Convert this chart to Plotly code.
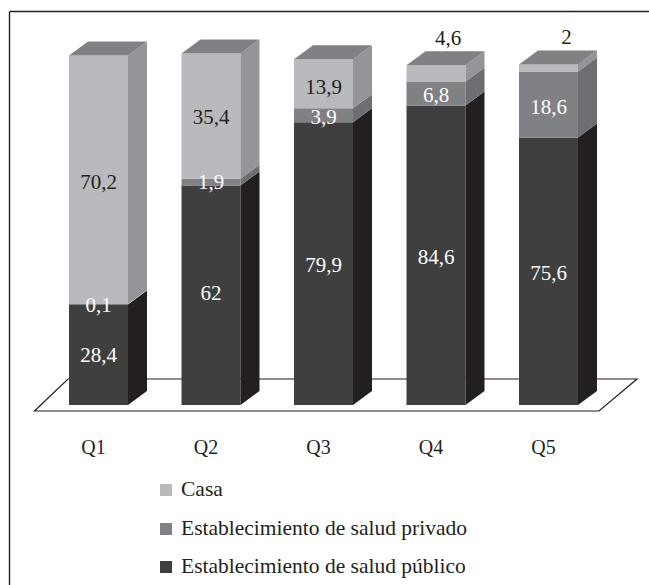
import plotly.graph_objects as go

categories = ["Q1", "Q2", "Q3", "Q4", "Q5"]
publico = [28.4, 62, 79.9, 84.6, 75.6]
privado = [0.1, 1.9, 3.9, 6.8, 18.6]
casa = [70.2, 35.4, 13.9, 4.6, 2]
label_publico = ["28,4", "62", "79,9", "84,6", "75,6"]
label_privado = ["0,1", "1,9", "3,9", "6,8", "18,6"]
label_casa = ["70,2", "35,4", "13,9", "4,6", "2"]
series_names = ["Casa", "Establecimiento de salud privado", "Establecimiento de salud público"]

W, H = 649, 585
X0_PX, X_STEP = 98.5, 112.5      # pixel of first bar centre, pixels per category
Y0_PX, Y_UNIT = 405.0, 3.54      # pixel of value 0, pixels per value unit
BAR_W = 59 / X_STEP
DX, DY = 19 / X_STEP, 14 / Y_UNIT
FONT = "Liberation Serif"

def dx(px):
    return (px - X0_PX) / X_STEP

def dy(py):
    return (Y0_PX - py) / Y_UNIT

xs = list(range(len(categories)))
front = {"casa": "#b9babd", "privado": "#808184", "publico": "#3f3f40"}
side = {"casa": "#939598", "privado": "#6d6e71", "publico": "#231f20"}
top_col = "#808184"

fig = go.Figure()

for key, name, vals, base in [
    ("publico", series_names[2], publico, [0] * 5),
    ("privado", series_names[1], privado, publico),
    ("casa", series_names[0], casa, [a + b for a, b in zip(publico, privado)]),
]:
    fig.add_trace(go.Bar(x=xs, y=vals, base=base, width=BAR_W, name=name,
                         marker=dict(color=front[key], line=dict(width=0)),
                         showlegend=False, hoverinfo="skip"))

def poly(px, py, color):
    fig.add_trace(go.Scatter(x=px + [px[0]], y=py + [py[0]], mode="lines", fill="toself",
                             fillcolor=color, line=dict(width=0), showlegend=False,
                             hoverinfo="skip"))

for i, x in enumerate(xs):
    r = x + BAR_W / 2
    l = x - BAR_W / 2
    b = 0
    for key, vals in [("publico", publico), ("privado", privado), ("casa", casa)]:
        t = b + vals[i]
        poly([r, r + DX, r + DX, r], [b, b + DY, t + DY, t], side[key])
        b = t
    poly([l, r, r + DX, l + DX], [b, b, b + DY, b + DY], top_col)

def labels(mids, texts, color, xshift=None, yshift=None):
    xshift = xshift or [0] * 5
    yshift = yshift or [0] * 5
    fig.add_trace(go.Scatter(
        x=[x + s / X_STEP for x, s in zip(xs, xshift)],
        y=[m + s / Y_UNIT for m, s in zip(mids, yshift)],
        mode="text", text=texts, textposition="middle center",
        textfont=dict(family=FONT, size=21, color=color),
        showlegend=False, hoverinfo="skip"))

mid_pub = [v / 2 for v in publico]
mid_pri = [a + b / 2 for a, b in zip(publico, privado)]
mid_cas = [a + b + c / 2 for a, b, c in zip(publico, privado, casa)]
labels(mid_pub, label_publico, "#ffffff", yshift=[-2, 1, -3, -3, -4])
labels(mid_pri, label_privado, "#ffffff", yshift=[-2, -2, -3, -3, -4])
labels(mid_cas, label_casa, "#231f20",
       xshift=[0, 0, 0, 12, 18], yshift=[-4, -3, -5, 34, 29])

# hand-built legend, square swatches beside the names
for name, color, py in zip(series_names, [front["casa"], front["privado"], front["publico"]], [491, 530, 568]):
    fig.add_trace(go.Scatter(x=[dx(166)], y=[dy(py - 1)], mode="markers",
                             marker=dict(symbol="square", size=12, color=color),
                             showlegend=False, hoverinfo="skip", name=name))
    fig.add_trace(go.Scatter(x=[dx(181)], y=[dy(py)], mode="text", text=[name],
                             textposition="middle right",
                             textfont=dict(family=FONT, size=21.5, color="#231f20"),
                             showlegend=False, hoverinfo="skip", name=name))

shapes = [
    # floor of the chart, behind the bars
    dict(type="path", layer="below", xref="x", yref="y",
         path=f"M {dx(34.5)} {dy(411)} L {dx(599)} {dy(411)} L {dx(637)} {dy(379)} L {dx(68)} {dy(379)} Z",
         fillcolor="#ffffff", line=dict(color="#231f20", width=1.2)),
    # outer frame, running off the right and bottom edges
    dict(type="line", xref="paper", yref="paper", x0=9.5 / W, x1=9.5 / W, y0=0, y1=1 - 11.5 / H,
         line=dict(color="#231f20", width=1.4)),
    dict(type="line", xref="paper", yref="paper", x0=9.5 / W, x1=1, y0=1 - 11.5 / H, y1=1 - 11.5 / H,
         line=dict(color="#231f20", width=1.4)),
]

fig.update_layout(
    width=W, height=H, margin=dict(l=0, r=0, t=0, b=0),
    paper_bgcolor="#ffffff", plot_bgcolor="#ffffff",
    barmode="overlay", showlegend=False, shapes=shapes,
    xaxis=dict(range=[dx(0), dx(W)], tickmode="array", tickvals=xs, ticktext=categories,
               showgrid=False, zeroline=False, showline=False, ticks="",
               anchor="free", position=(H - 433) / H, ticklabelshift=-5,
               tickfont=dict(family=FONT, size=20, color="#231f20"), fixedrange=True),
    yaxis=dict(range=[dy(H), dy(0)], showgrid=False, zeroline=False, showline=False,
               showticklabels=False, ticks="", fixedrange=True),
)

fig.write_html("out.html", config={"displayModeBar": False},
               post_script="document.body.style.margin='0';")
